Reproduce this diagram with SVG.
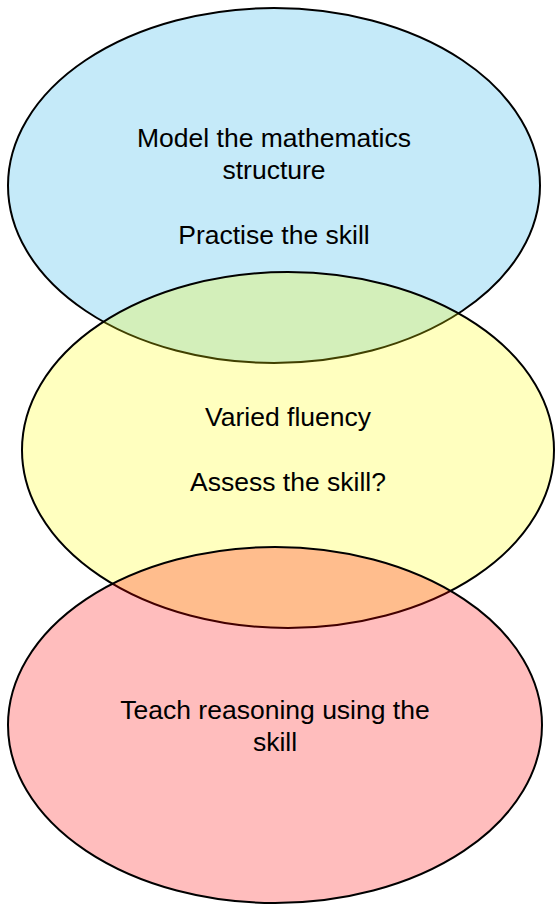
<svg xmlns="http://www.w3.org/2000/svg" width="555" height="906" viewBox="0 0 555 906">
<style>
.node ellipse{stroke:#000;stroke-width:2}
.lbl{font-family:"Liberation Sans",Arial,sans-serif;font-size:26.5px;fill:#000;text-anchor:middle}
</style>
<rect width="555" height="906" fill="#fff"/>
<g id="node-blue" class="node">
<ellipse cx="274" cy="185.5" rx="266" ry="177.5" fill="#c5eaf9"/>
<text class="lbl" x="274" y="147">Model the mathematics</text>
<text class="lbl" x="274" y="179">structure</text>
<text class="lbl" x="274" y="244">Practise the skill</text>
</g>
<g id="node-yellow" class="node">
<ellipse cx="288" cy="450" rx="266" ry="178" fill="#ffff00" fill-opacity="0.25"/>
<text class="lbl" x="288" y="426">Varied fluency</text>
<text class="lbl" x="288" y="491">Assess the skill?</text>
</g>
<g id="node-red" class="node">
<ellipse cx="275" cy="725" rx="267" ry="178" fill="#ff0000" fill-opacity="0.26"/>
<text class="lbl" x="275" y="719">Teach reasoning using the</text>
<text class="lbl" x="275" y="751">skill</text>
</g>
<g id="connectors"></g>
</svg>
